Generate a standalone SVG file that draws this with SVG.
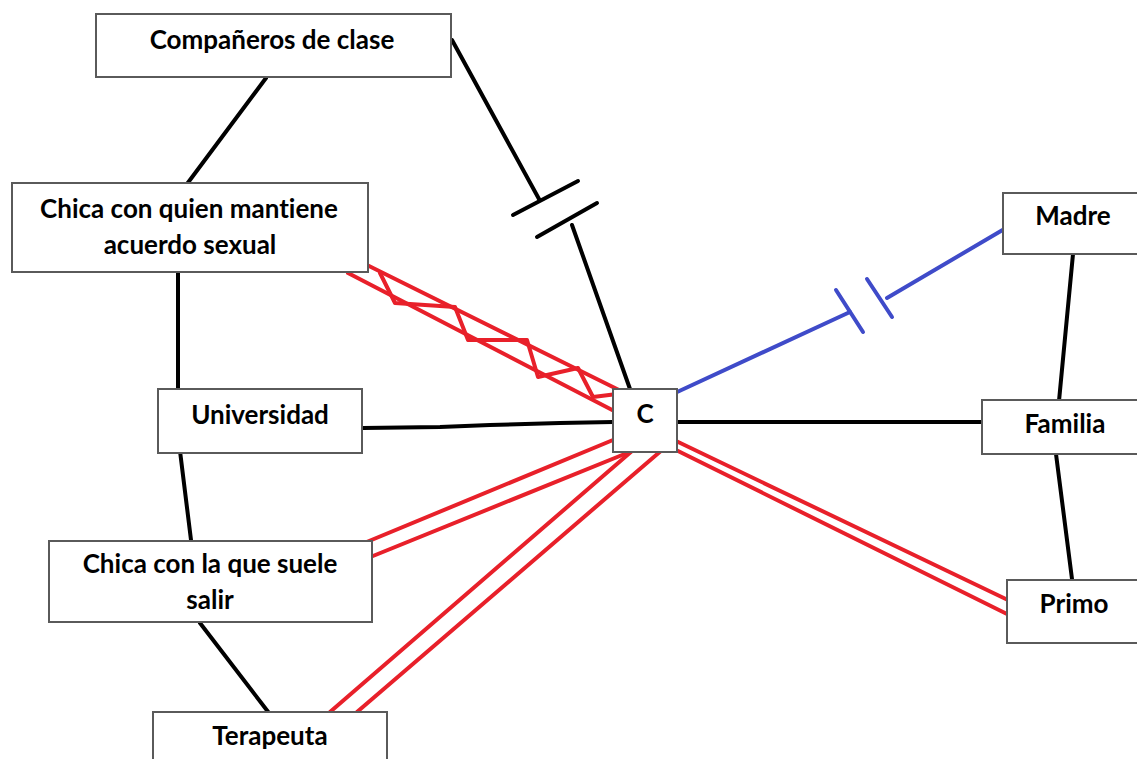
<svg xmlns="http://www.w3.org/2000/svg" width="1137" height="759" viewBox="0 0 1137 759">
  <style>
    .box { fill: #ffffff; stroke: #5a5a5a; stroke-width: 2; }
    .lbl { font-family: Lato, "Liberation Sans", sans-serif; font-weight: bold; font-size: 26px; fill: #000000; text-anchor: middle; font-variant-ligatures: none; }
    .blk { stroke: #000000; stroke-width: 4; fill: none; stroke-linecap: round; }
    .red { stroke: #e8202a; stroke-width: 4; fill: none; stroke-linecap: round; stroke-linejoin: round; }
    .blue { stroke: #3f4bc9; stroke-width: 4; fill: none; stroke-linecap: round; }
  </style>
  <rect width="1137" height="759" fill="#ffffff"/>

  <g id="connectors">
    <!-- black plain -->
    <line class="blk" x1="266" y1="78" x2="184" y2="188"/>
    <line class="blk" x1="178" y1="273" x2="178" y2="388"/>
    <line class="blk" x1="180" y1="451" x2="191" y2="540"/>
    <line class="blk" x1="200" y1="623" x2="269" y2="713"/>
    <polyline class="blk" points="363,428 440,427 490,425 560,423 613,422"/>
    <line class="blk" x1="678" y1="422" x2="982" y2="422"/>
    <line class="blk" x1="1073" y1="254" x2="1059" y2="401"/>
    <line class="blk" x1="1056" y1="454" x2="1072" y2="579"/>
    <!-- black broken (Compañeros - C) -->
    <line class="blk" x1="452" y1="40" x2="539" y2="199"/>
    <line class="blk" x1="513" y1="215" x2="578" y2="181"/>
    <line class="blk" x1="537" y1="237" x2="597" y2="203"/>
    <line class="blk" x1="572" y1="225" x2="630" y2="389"/>
    <!-- blue broken (C - Madre) -->
    <line class="blue" x1="675" y1="393" x2="850" y2="312"/>
    <line class="blue" x1="836" y1="290" x2="863" y2="332"/>
    <line class="blue" x1="867" y1="279" x2="892" y2="317"/>
    <line class="blue" x1="887" y1="298" x2="1006" y2="228"/>
    <!-- red zigzag (Chica acuerdo sexual - C) -->
    <line class="red" x1="367" y1="265" x2="625" y2="393"/>
    <line class="red" x1="348" y1="273" x2="618" y2="413"/>
    <polyline class="red" points="380,273 395,303 455,307 468,340 527,340 538,377 578,368 593,397 625,393"/>
    <!-- red double (Chica suele - C) -->
    <line class="red" x1="357" y1="546" x2="613" y2="440"/>
    <line class="red" x1="368" y1="558" x2="637" y2="449"/>
    <!-- red double (Terapeuta - C) -->
    <line class="red" x1="330" y1="712" x2="632" y2="451"/>
    <line class="red" x1="357" y1="712" x2="662" y2="450"/>
    <!-- red double (C - Primo) -->
    <line class="red" x1="674" y1="440" x2="1010" y2="601"/>
    <line class="red" x1="676" y1="450" x2="1007" y2="614"/>
  </g>

  <g id="node-companeros">
    <rect class="box" x="96" y="14" width="355" height="63"/>
    <text class="lbl" x="272" y="49">Compañeros de clase</text>
  </g>
  <g id="node-chica-acuerdo">
    <rect class="box" x="12" y="183" width="356" height="89"/>
    <text class="lbl" x="189" y="218">Chica con quien mantiene</text>
    <text class="lbl" x="190" y="254">acuerdo sexual</text>
  </g>
  <g id="node-universidad">
    <rect class="box" x="158" y="389" width="204" height="64"/>
    <text class="lbl" x="260" y="424">Universidad</text>
  </g>
  <g id="node-chica-salir">
    <rect class="box" x="49" y="541" width="323" height="81"/>
    <text class="lbl" x="210" y="573">Chica con la que suele</text>
    <text class="lbl" x="210" y="609">salir</text>
  </g>
  <g id="node-terapeuta">
    <rect class="box" x="153" y="712" width="234" height="60"/>
    <text class="lbl" x="270" y="745">Terapeuta</text>
  </g>
  <g id="node-c">
    <rect class="box" x="613" y="389" width="64" height="63"/>
    <text class="lbl" x="645" y="423">C</text>
  </g>
  <g id="node-madre">
    <rect class="box" x="1003" y="193" width="140" height="61"/>
    <text class="lbl" x="1073" y="225">Madre</text>
  </g>
  <g id="node-familia">
    <rect class="box" x="982" y="400" width="160" height="54"/>
    <text class="lbl" x="1065" y="433">Familia</text>
  </g>
  <g id="node-primo">
    <rect class="box" x="1007" y="580" width="135" height="63"/>
    <text class="lbl" x="1074" y="613">Primo</text>
  </g>
</svg>
